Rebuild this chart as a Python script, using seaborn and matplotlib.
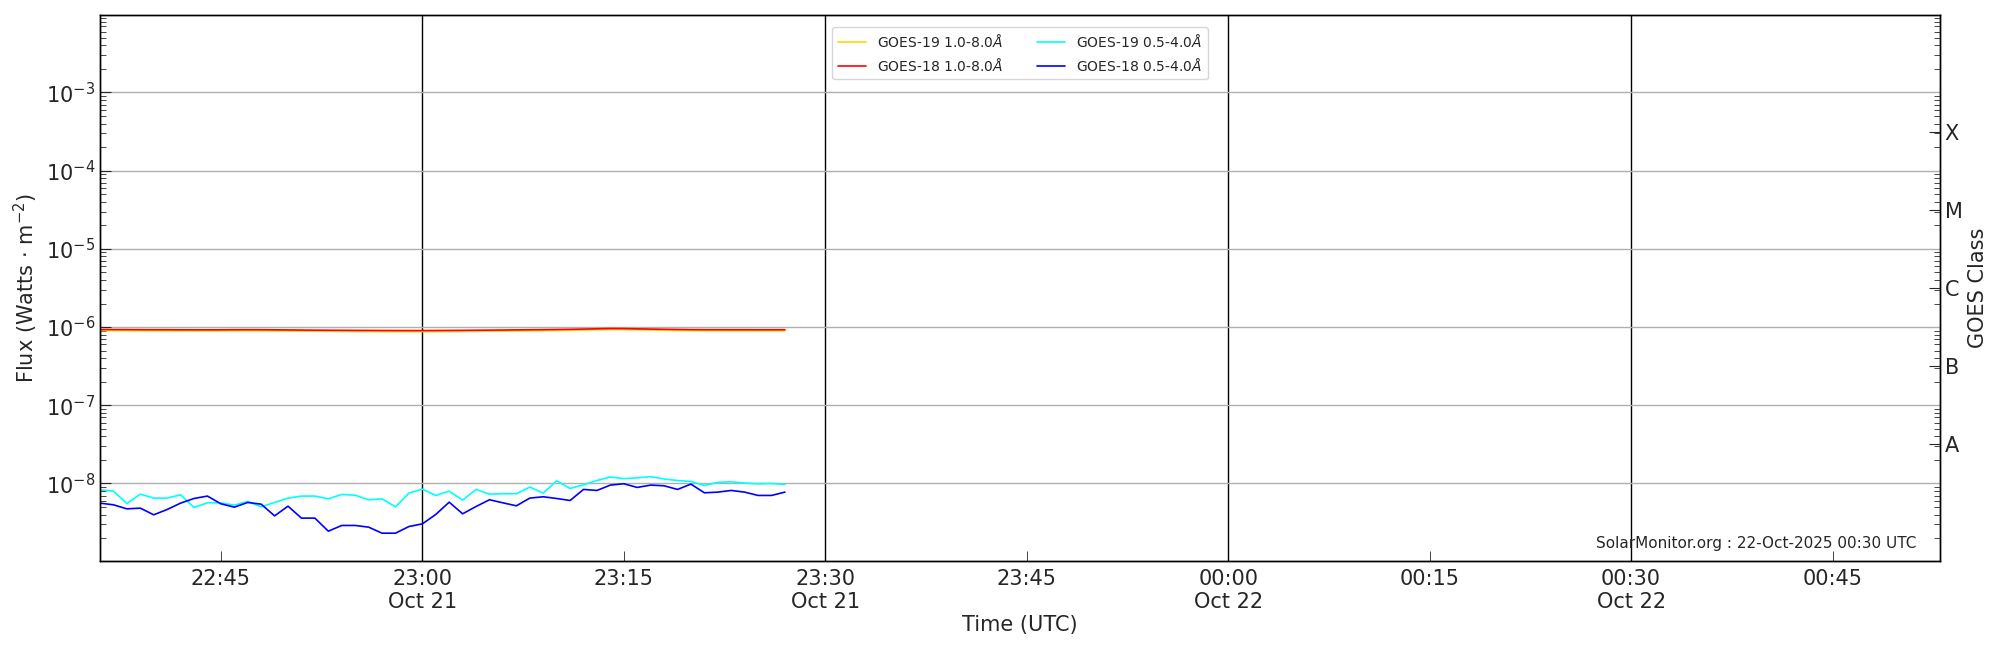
import numpy as np
import pandas as pd
import seaborn as sns
import matplotlib.pyplot as plt
import matplotlib.dates as mdates

# one minute GOES XRS samples, 21-Oct-2025 22:36 -> 23:27 UTC
start_time = "2025-10-21 22:36"
n_points = 52
x_limits = ("2025-10-21 22:36", "2025-10-22 00:53")

goes19_long = [9.02, 9.00, 8.99, 8.97, 8.96, 8.96, 8.95, 8.95, 8.94, 8.95, 8.97, 8.98, 8.97,
               8.94, 8.91, 8.88, 8.85, 8.83, 8.81, 8.79, 8.78, 8.76, 8.75, 8.74, 8.74, 8.76,
               8.78, 8.80, 8.83, 8.86, 8.89, 8.93, 8.96, 8.99, 9.03, 9.08, 9.15, 9.23, 9.30,
               9.28, 9.21, 9.15, 9.09, 9.04, 9.00, 8.98, 8.98, 8.97, 8.97, 8.96, 8.96, 8.97]
goes18_long = [9.30, 9.28, 9.27, 9.25, 9.24, 9.24, 9.22, 9.22, 9.21, 9.22, 9.24, 9.25, 9.24,
               9.21, 9.18, 9.15, 9.12, 9.10, 9.08, 9.06, 9.05, 9.03, 9.02, 9.01, 9.01, 9.03,
               9.05, 9.07, 9.10, 9.13, 9.16, 9.20, 9.23, 9.26, 9.30, 9.35, 9.42, 9.50, 9.57,
               9.55, 9.48, 9.42, 9.36, 9.31, 9.27, 9.25, 9.25, 9.24, 9.24, 9.23, 9.23, 9.24]
goes19_short = [8.29, 7.97, 5.54, 7.30, 6.49, 6.49, 7.16, 4.92, 5.65, 5.65, 5.27, 5.88, 5.02,
                5.71, 6.49, 6.89, 6.89, 6.35, 7.23, 7.08, 6.18, 6.35, 5.02, 7.52, 8.45, 7.02,
                7.97, 6.11, 8.38, 7.30, 7.38, 7.38, 8.98, 7.52, 10.8, 8.63, 9.61, 10.9, 12.1,
                11.5, 11.8, 12.2, 11.4, 10.9, 10.6, 9.42, 10.3, 10.5, 10.1, 9.90, 10.0, 9.71]
goes18_short = [5.60, 5.33, 4.73, 4.83, 3.97, 4.64, 5.60, 6.42, 6.89, 5.49, 4.97, 5.71, 5.43,
                3.85, 5.12, 3.60, 3.60, 2.45, 2.90, 2.90, 2.76, 2.31, 2.31, 2.81, 3.04, 4.01,
                5.76, 4.09, 5.07, 6.18, 5.65, 5.17, 6.49, 6.75, 6.42, 6.05, 8.38, 8.13, 9.52,
                9.90, 8.89, 9.52, 9.33, 8.38, 9.80, 7.59, 7.74, 8.13, 7.74, 7.02, 7.02, 7.74]

series_labels = ["GOES-19 1.0-8.0$\\AA$", "GOES-18 1.0-8.0$\\AA$",
                 "GOES-19 0.5-4.0$\\AA$", "GOES-18 0.5-4.0$\\AA$"]
series_colors = ["gold", "red", "cyan", "blue"]

class_labels = ["A", "B", "C", "M", "X"]
class_levels = [10**-7.5, 10**-6.5, 10**-5.5, 10**-4.5, 10**-3.5]

times = pd.date_range(start_time, periods=n_points, freq="1min")
df = pd.DataFrame({
    "time": np.tile(times, 4),
    "flux": np.concatenate([np.array(goes19_long) * 1e-7, np.array(goes18_long) * 1e-7,
                            np.array(goes19_short) * 1e-9, np.array(goes18_short) * 1e-9]),
    "channel": np.repeat(series_labels, n_points),
})

sns.set_style("ticks")
plt.rcParams["font.family"] = ["DejaVu Sans"]

fig, ax = plt.subplots(figsize=(20, 6.5), dpi=100)
fig.subplots_adjust(left=0.05, right=0.97, top=0.977, bottom=0.137)

sns.lineplot(data=df, x="time", y="flux", hue="channel", hue_order=series_labels,
             palette=series_colors, linewidth=1.2, ax=ax)

ax.set_yscale("log")
ax.set_ylim(1.02e-9, 9.8e-3)
ax.set_xlim(pd.Timestamp(x_limits[0]), pd.Timestamp(x_limits[1]))

ax.xaxis.set_major_locator(mdates.MinuteLocator(byminute=[0, 30]))
ax.xaxis.set_major_formatter(mdates.DateFormatter("%H:%M\n%b %d"))
ax.xaxis.set_minor_locator(mdates.MinuteLocator(byminute=[15, 45]))
ax.xaxis.set_minor_formatter(mdates.DateFormatter("%H:%M"))

ax.tick_params(axis="both", which="both", direction="in", labelsize=15)
ax.tick_params(axis="y", which="major", length=8)
ax.tick_params(axis="y", which="minor", length=4)
ax.tick_params(axis="x", which="major", length=0, pad=6)
ax.tick_params(axis="x", which="minor", length=7, pad=6)

ax.grid(True, axis="y", which="major", color="#b0b0b0", linewidth=1.0)
ax.grid(True, axis="x", which="major", color="black", linewidth=1.0)

ax.set_xlabel("Time (UTC)", fontsize=15, labelpad=2)
ax.set_ylabel("Flux (Watts $\\cdot$ m$^{-2}$)", fontsize=15)

handles, labels = ax.get_legend_handles_labels()
ax.legend(handles, labels, loc="upper center", ncol=2, fontsize=10, columnspacing=2.5,
          bbox_to_anchor=(0.5, 0.99))

ax.text(0.987, 0.024, "SolarMonitor.org : 22-Oct-2025 00:30 UTC", transform=ax.transAxes,
        ha="right", va="baseline", fontsize=11)

ax2 = ax.twinx()
ax2.set_yscale("log")
ax2.set_ylim(ax.get_ylim())
ax2.set_yticks(class_levels)
ax2.set_yticklabels(class_labels)
ax2.tick_params(axis="y", which="both", direction="in", labelsize=15)
ax2.tick_params(axis="y", which="major", length=8)
ax2.tick_params(axis="y", which="minor", length=4)
ax2.set_ylabel("GOES Class", fontsize=15)

for a in (ax, ax2):
    for spine in a.spines.values():
        spine.set_visible(True)
        spine.set_linewidth(1.0)
        spine.set_color("black")

fig.savefig("out.png", dpi=100)
